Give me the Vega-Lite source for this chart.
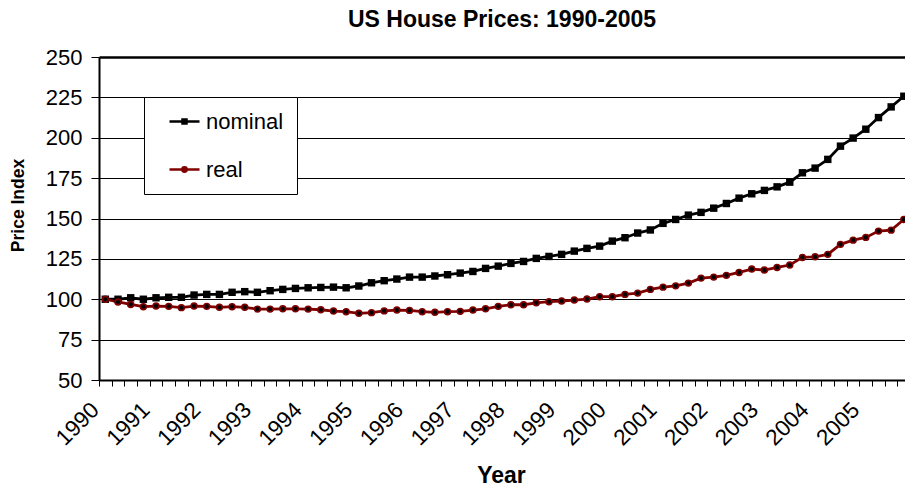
{
  "$schema": "https://vega.github.io/schema/vega-lite/v6.json",
  "width": 806,
  "height": 323,
  "autosize": {"type": "none"},
  "padding": {"left": 99, "top": 57, "right": 0, "bottom": 108},
  "background": "white",
  "config": {"view": {"stroke": null}, "font": "Liberation Sans"},
  "title": {"text": "US House Prices: 1990-2005", "fontSize": 23, "fontWeight": "bold", "color": "#000", "anchor": "middle", "offset": 14, "font": "Liberation Sans"},
  "data": {"values": [
    {"t": 1990.00, "nominal": 100.0, "real": 100.0},
    {"t": 1990.25, "nominal": 100.0, "real": 98.3},
    {"t": 1990.50, "nominal": 100.9, "real": 96.8},
    {"t": 1990.75, "nominal": 100.0, "real": 95.4},
    {"t": 1991.00, "nominal": 100.9, "real": 95.8},
    {"t": 1991.25, "nominal": 101.2, "real": 95.6},
    {"t": 1991.50, "nominal": 101.2, "real": 94.8},
    {"t": 1991.75, "nominal": 102.6, "real": 95.8},
    {"t": 1992.00, "nominal": 103.0, "real": 95.6},
    {"t": 1992.25, "nominal": 103.0, "real": 95.0},
    {"t": 1992.50, "nominal": 104.3, "real": 95.4},
    {"t": 1992.75, "nominal": 104.7, "real": 95.0},
    {"t": 1993.00, "nominal": 104.3, "real": 93.9},
    {"t": 1993.25, "nominal": 105.3, "real": 93.9},
    {"t": 1993.50, "nominal": 106.1, "real": 94.1},
    {"t": 1993.75, "nominal": 106.7, "real": 94.1},
    {"t": 1994.00, "nominal": 107.1, "real": 93.9},
    {"t": 1994.25, "nominal": 107.3, "real": 93.5},
    {"t": 1994.50, "nominal": 107.5, "real": 92.7},
    {"t": 1994.75, "nominal": 107.1, "real": 92.3},
    {"t": 1995.00, "nominal": 108.2, "real": 91.3},
    {"t": 1995.25, "nominal": 110.2, "real": 91.7},
    {"t": 1995.50, "nominal": 111.5, "real": 92.8},
    {"t": 1995.75, "nominal": 112.5, "real": 93.3},
    {"t": 1996.00, "nominal": 113.7, "real": 93.1},
    {"t": 1996.25, "nominal": 113.7, "real": 92.3},
    {"t": 1996.50, "nominal": 114.4, "real": 91.9},
    {"t": 1996.75, "nominal": 115.2, "real": 92.3},
    {"t": 1997.00, "nominal": 116.2, "real": 92.5},
    {"t": 1997.25, "nominal": 117.2, "real": 93.3},
    {"t": 1997.50, "nominal": 119.1, "real": 94.1},
    {"t": 1997.75, "nominal": 120.5, "real": 95.6},
    {"t": 1998.00, "nominal": 122.2, "real": 96.6},
    {"t": 1998.25, "nominal": 123.4, "real": 96.6},
    {"t": 1998.50, "nominal": 125.3, "real": 97.8},
    {"t": 1998.75, "nominal": 126.5, "real": 98.5},
    {"t": 1999.00, "nominal": 127.8, "real": 98.9},
    {"t": 1999.25, "nominal": 129.8, "real": 99.5},
    {"t": 1999.50, "nominal": 131.5, "real": 100.1},
    {"t": 1999.75, "nominal": 132.9, "real": 101.6},
    {"t": 2000.00, "nominal": 136.0, "real": 101.6},
    {"t": 2000.25, "nominal": 138.1, "real": 103.0},
    {"t": 2000.50, "nominal": 141.0, "real": 103.8},
    {"t": 2000.75, "nominal": 142.9, "real": 106.1},
    {"t": 2001.00, "nominal": 147.0, "real": 107.5},
    {"t": 2001.25, "nominal": 149.4, "real": 108.3},
    {"t": 2001.50, "nominal": 152.1, "real": 110.0},
    {"t": 2001.75, "nominal": 153.8, "real": 113.1},
    {"t": 2002.00, "nominal": 156.4, "real": 113.7},
    {"t": 2002.25, "nominal": 159.3, "real": 114.8},
    {"t": 2002.50, "nominal": 162.6, "real": 116.6},
    {"t": 2002.75, "nominal": 165.3, "real": 118.7},
    {"t": 2003.00, "nominal": 167.4, "real": 118.1},
    {"t": 2003.25, "nominal": 169.6, "real": 119.7},
    {"t": 2003.50, "nominal": 172.5, "real": 121.2},
    {"t": 2003.75, "nominal": 178.3, "real": 125.9},
    {"t": 2004.00, "nominal": 181.2, "real": 126.3},
    {"t": 2004.25, "nominal": 186.6, "real": 127.8},
    {"t": 2004.50, "nominal": 194.8, "real": 134.0},
    {"t": 2004.75, "nominal": 199.8, "real": 136.6},
    {"t": 2005.00, "nominal": 205.3, "real": 138.3},
    {"t": 2005.25, "nominal": 212.5, "real": 142.2},
    {"t": 2005.50, "nominal": 219.1, "real": 142.8},
    {"t": 2005.75, "nominal": 225.7, "real": 149.4}
  ]},
  "transform": [{"fold": ["nominal", "real"], "as": ["series", "value"]}],
  "encoding": {
    "x": {
      "field": "t", "type": "quantitative",
      "scale": {"domain": [1989.875, 2005.773], "nice": false, "zero": false},
      "axis": {
        "title": "Year",
        "titleFontSize": 23, "titleFontWeight": "bold", "titleColor": "#000", "titleFont": "Liberation Sans",
        "titleX": 402, "titleY": 95, "titleAlign": "center", "titleBaseline": "middle",
        "values": [1989.875,
          1990.125, 1990.375, 1990.625, 1990.875,
          1991.125, 1991.375, 1991.625, 1991.875,
          1992.125, 1992.375, 1992.625, 1992.875,
          1993.125, 1993.375, 1993.625, 1993.875,
          1994.125, 1994.375, 1994.625, 1994.875,
          1995.125, 1995.375, 1995.625, 1995.875,
          1996.125, 1996.375, 1996.625, 1996.875,
          1997.125, 1997.375, 1997.625, 1997.875,
          1998.125, 1998.375, 1998.625, 1998.875,
          1999.125, 1999.375, 1999.625, 1999.875,
          2000.125, 2000.375, 2000.625, 2000.875,
          2001.125, 2001.375, 2001.625, 2001.875,
          2002.125, 2002.375, 2002.625, 2002.875,
          2003.125, 2003.375, 2003.625, 2003.875,
          2004.125, 2004.375, 2004.625, 2004.875,
          2005.125, 2005.375, 2005.625],
        "labelExpr": "datum.value % 1 == 0.875 ? format(datum.value + 0.125, 'd') : ''",
        "labelAngle": -45, "labelAlign": "right", "labelBaseline": "middle",
        "labelOffset": -4, "labelPadding": 20,
        "labelFontSize": 22.5, "labelColor": "#000", "labelFont": "Liberation Sans",
        "labelOverlap": false, "labelFlush": false, "labelBound": false,
        "tickSize": 6, "tickColor": "#000", "tickWidth": 1,
        "domainColor": "#000", "domainWidth": 2,
        "grid": false
      }
    },
    "y": {
      "field": "value", "type": "quantitative",
      "scale": {"domain": [50, 250], "nice": false, "zero": false},
      "axis": {
        "title": "Price Index",
        "titleFontSize": 17.5, "titleFontWeight": "bold", "titleColor": "#000", "titleFont": "Liberation Sans",
        "titleX": -81, "titleY": 148, "titleAngle": -90, "titleAlign": "center", "titleBaseline": "middle",
        "values": [50, 75, 100, 125, 150, 175, 200, 225, 250],
        "labelFontSize": 22, "labelColor": "#000", "labelFont": "Liberation Sans", "labelPadding": 9,
        "tickSize": 8, "tickColor": "#000", "tickWidth": 1,
        "domainColor": "#000", "domainWidth": 2,
        "grid": true, "gridColor": "#000",
        "gridWidth": {"condition": {"test": "datum.value === 250", "value": 2.3}, "value": 1}
      }
    }
  },
  "layer": [
    {
      "mark": {"type": "line", "strokeWidth": 2.8},
      "encoding": {
        "color": {
          "field": "series", "type": "nominal",
          "scale": {"domain": ["nominal", "real"], "range": ["#000000", "#800000"]},
          "legend": {
            "orient": "none", "legendX": 45, "legendY": 40, "title": null,
            "strokeColor": "#000", "fillColor": "#fff", "padding": 13,
            "rowPadding": 25, "symbolSize": 400, "symbolOffset": 16, "labelOffset": 10,
            "labelFontSize": 22, "labelColor": "#000", "labelFont": "Liberation Sans",
            "symbolStrokeWidth": 2.5,
            "labelExpr": "datum.label + '\u2007'",
            "encode": {
              "symbols": {
                "update": {
                  "shape": {"signal": "datum.value === 'nominal' ? 'M-1.5,0L1.5,0M-0.2,-0.2L0.2,-0.2L0.2,0.2L-0.2,0.2Z' : 'M-1.5,0L1.5,0M0.22,0A0.22,0.22,0,1,1,-0.22,0A0.22,0.22,0,1,1,0.22,0Z'"},
                  "fill": {"value": "#000"}
                }
              }
            }
          }
        }
      }
    },
    {
      "transform": [{"filter": "datum.series === 'nominal'"}],
      "mark": {"type": "point", "shape": "square", "filled": true, "size": 55, "color": "#000", "opacity": 1}
    },
    {
      "transform": [{"filter": "datum.series === 'real'"}],
      "mark": {"type": "point", "shape": "circle", "filled": true, "size": 34, "fill": "#000", "stroke": "#800000", "strokeWidth": 1.6, "opacity": 1}
    }
  ]
}
